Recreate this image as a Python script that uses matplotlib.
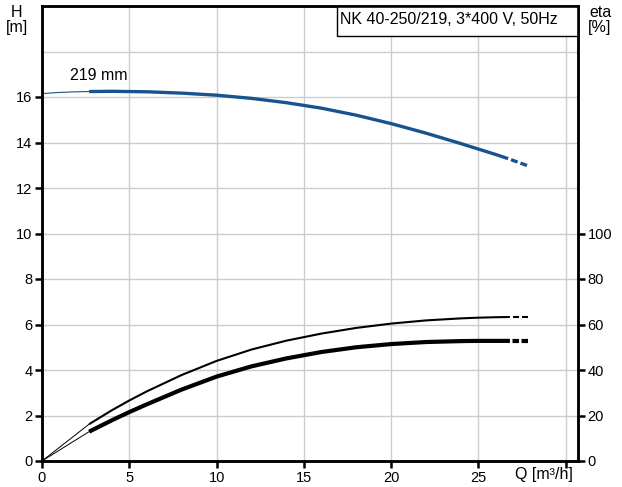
import numpy as np
import matplotlib
matplotlib.use("Agg")
import matplotlib.pyplot as plt
from matplotlib.patches import Rectangle

plt.rcParams['font.family'] = ['Liberation Sans', 'DejaVu Sans']
plt.rcParams['font.size'] = 10.5
plt.rcParams['lines.scale_dashes'] = False

# head curve H [m]
q_h_thin = [0, 1.0, 2.0, 2.7]
h_thin = [16.15, 16.2, 16.23, 16.24]
q_h = [2.7, 4, 5, 6, 8, 10, 12, 14, 16, 18, 20, 22, 24, 25, 26, 26.7]
h = [16.24, 16.25, 16.24, 16.23, 16.17, 16.08, 15.94, 15.75, 15.51, 15.2, 14.83,
     14.41, 13.95, 13.71, 13.47, 13.29]
q_h_dash = [26.7, 27.85]
h_dash = [13.29, 12.97]

# efficiency curves eta [%]
q_eta_thin = [0, 2.7]
eta1_thin = [0, 16.2]
eta2_thin = [0, 12.9]
q_eta = [2.7, 4, 5, 6, 8, 10, 12, 14, 16, 18, 20, 22, 24, 25, 26, 26.8]
eta1 = [16.2, 22.3, 26.6, 30.6, 37.8, 44.0, 49.0, 52.9, 56.0, 58.5, 60.4, 61.8,
        62.7, 63.0, 63.2, 63.3]
eta2 = [12.9, 17.9, 21.5, 24.9, 31.4, 37.1, 41.6, 45.1, 47.9, 50.0, 51.4, 52.3,
        52.7, 52.8, 52.8, 52.8]
q_eta_dash = [26.8, 27.85]
eta1_dash = [63.3, 63.3]
eta2_dash = [52.8, 52.8]

x_ticks = [0, 5, 10, 15, 20, 25, 30]
x_labels = ['0', '5', '10', '15', '20', '25', '']
h_ticks = [0, 2, 4, 6, 8, 10, 12, 14, 16, 18]
h_labels = ['0', '2', '4', '6', '8', '10', '12', '14', '16', '']
eta_ticks = [0, 20, 40, 60, 80, 100]

blue = '#17548f'

fig = plt.figure(figsize=(6.22, 4.87), dpi=100)
ax = fig.add_axes([42 / 622, 26 / 487, 536 / 622, 455 / 487])
ax2 = ax.twinx()

ax.set_xlim(0, 30.7)
ax.set_ylim(0, 20)
ax2.set_ylim(0, 200)

ax.set_xticks(x_ticks)
ax.set_xticklabels(x_labels)
ax.set_yticks(h_ticks)
ax.set_yticklabels(h_labels)
ax2.set_yticks(eta_ticks)
ax.grid(True, color='#cccccc', linewidth=1.0)
ax.set_axisbelow(True)

for a in (ax, ax2):
    for s in a.spines.values():
        s.set_linewidth(1.8)
        s.set_color('black')
    a.tick_params(direction='out', length=5, width=1.8, pad=2, labelsize=10.5)
# no tick at unlabelled 18
ax.yaxis.get_major_ticks()[-1].tick1line.set_visible(False)

ax.plot(q_h_thin, h_thin, color=blue, lw=0.8)
ax.plot(q_h, h, color=blue, lw=2.4, solid_capstyle='butt', solid_joinstyle='round')
ax.plot(q_h_dash, h_dash, color=blue, lw=2.4, ls=(5.0, (5.0, 2.2)))

ax2.plot(q_eta_thin, eta1_thin, color='black', lw=0.7)
ax2.plot(q_eta_thin, eta2_thin, color='black', lw=0.7)
ax2.plot(q_eta, eta1, color='black', lw=1.5, solid_capstyle='butt', solid_joinstyle='round')
ax2.plot(q_eta, eta2, color='black', lw=3.0, solid_capstyle='butt', solid_joinstyle='round')
ax2.plot(q_eta_dash, eta1_dash, color='black', lw=1.5, ls=(4.3, (4.3, 2.2)))
ax2.plot(q_eta_dash, eta2_dash, color='black', lw=3.0, ls=(4.7, (4.7, 1.8)))

ax.text(1.6, 16.6, '219 mm', fontsize=11.5, ha='left', va='bottom')

# title box
ax.add_patch(Rectangle((295 / 536, 425 / 455), 241 / 536, 30 / 455,
                       transform=ax.transAxes, facecolor='white',
                       edgecolor='black', lw=1.0, zorder=5, clip_on=False))
ax.text(298 / 536, 441 / 455, 'NK 40-250/219, 3*400 V, 50Hz',
        transform=ax.transAxes, ha='left', va='center', fontsize=11.5, zorder=6)

fig.text(17 / 622, 1 - 20 / 487, 'H\n[m]', ha='center', va='center',
         fontsize=11.5, linespacing=0.95)
fig.text(600 / 622, 1 - 20 / 487, 'eta\n[%]', ha='center', va='center',
         fontsize=11.5, linespacing=0.95)
fig.text(573 / 622, 1 - 474 / 487, 'Q [m³/h]', ha='right', va='center',
         fontsize=11.5)

fig.savefig('out.png', dpi=100)
